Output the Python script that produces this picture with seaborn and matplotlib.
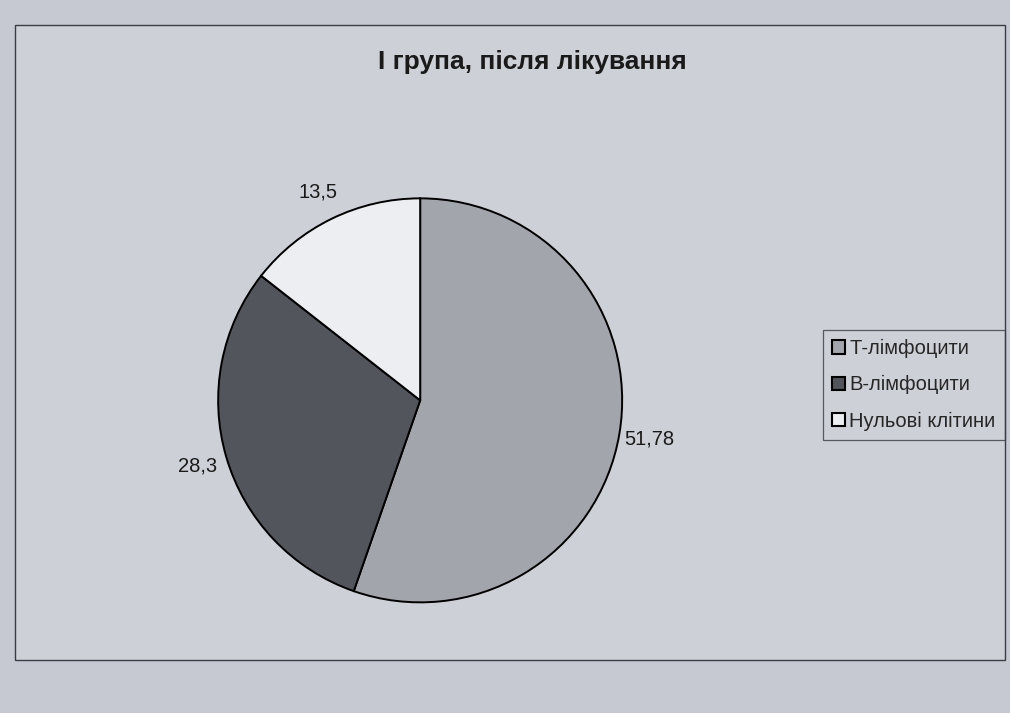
import numpy as np
import matplotlib
matplotlib.use("Agg")
import matplotlib.pyplot as plt
import seaborn as sns
from matplotlib.patches import Rectangle

title = "І група, після лікування"
categories = ["Т-лімфоцити", "В-лімфоцити", "Нульові клітини"]
values = [51.78, 28.3, 13.5]
value_labels = ["51,78", "28,3", "13,5"]

sns.set_theme(style="white")
plt.rcParams["font.family"] = ["Liberation Sans", "DejaVu Sans"]

colors = ["#a3a5ad", "#53555d", "#eceef1"]
bg = "#c6c9d1"

fig = plt.figure(figsize=(10.10, 7.13), dpi=100, facecolor=bg)

# chart area border, kept behind the pie
fig.add_artist(Rectangle((0.015, 0.075), 0.98, 0.89, transform=fig.transFigure,
                         facecolor="#cdd0d7", edgecolor="#3a3c44", linewidth=1.0,
                         zorder=-5))

ax = fig.add_axes([0.216, 0.155, 0.4, 0.567])
ax.set_facecolor("none")
ax.set_zorder(2)
wedges, _ = ax.pie(values, colors=colors, startangle=90, counterclock=False,
                   wedgeprops=dict(edgecolor="black", linewidth=1.4))
ax.set_xlim(-1.0, 1.0)
ax.set_ylim(-1.0, 1.0)
ax.set_aspect("equal")

# value labels placed outside each wedge at its mid-angle
for w, lab in zip(wedges, value_labels):
    mid = np.deg2rad((w.theta1 + w.theta2) / 2)
    r = 1.15
    ax.text(r * np.cos(mid), r * np.sin(mid), lab, ha="center", va="center",
            fontsize=14.5, color="#1a1a1a")

fig.text(0.527, 0.913, title, ha="center", va="center", fontsize=19,
         fontweight="bold", color="#1a1a1a")

leg = fig.legend(wedges, categories, loc="upper left", bbox_to_anchor=(0.815, 0.537),
                 frameon=True, fancybox=False, edgecolor="#3a3c44", facecolor="none",
                 fontsize=14.5, handlelength=0.65, handleheight=0.65, handletextpad=0.2,
                 labelspacing=0.85, borderpad=0.45, borderaxespad=0.0)
leg.set_zorder(3)
leg.get_frame().set_linewidth(0.9)
for h in leg.legend_handles:
    h.set_edgecolor("black")
    h.set_linewidth(1.5)

fig.savefig("out.png", dpi=100, facecolor=bg)
